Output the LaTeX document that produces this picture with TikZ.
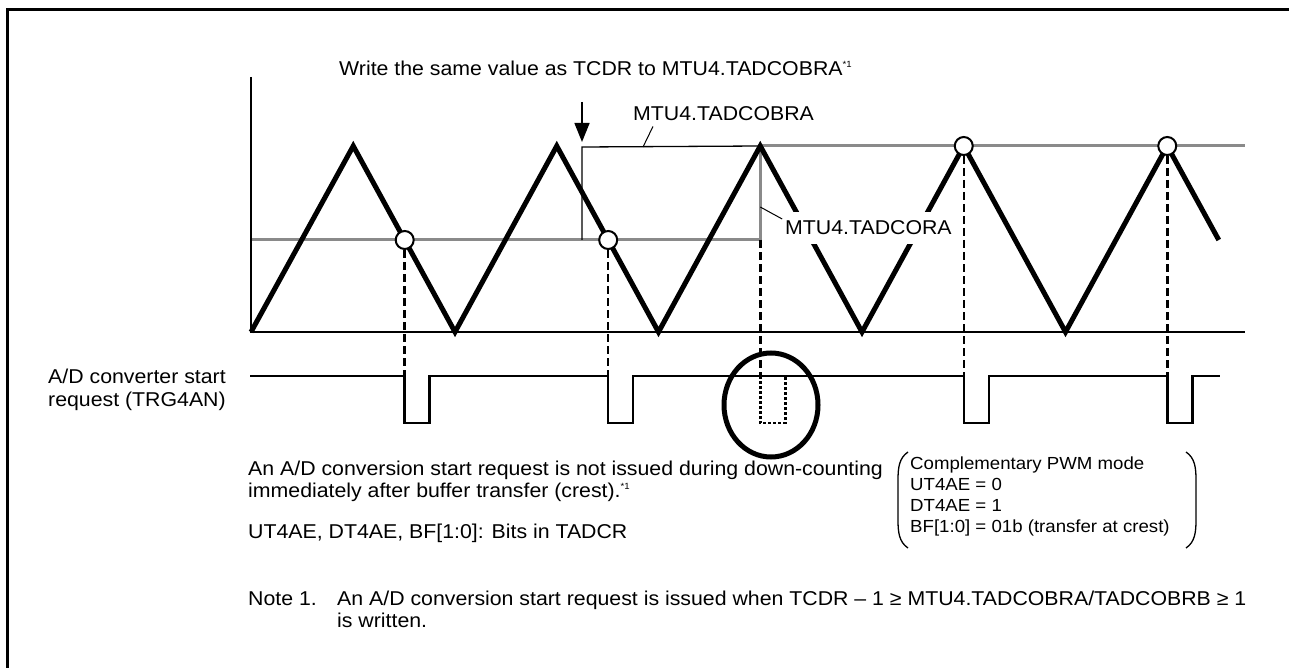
\documentclass[tikz,border=0pt]{standalone}
\usepackage{fontspec}
\setmainfont{Liberation Sans}[FakeStretch=1.065]
\usepackage{tikz}
\usetikzlibrary{
  arrows.meta,
  positioning,
  shapes.geometric,
  calc,
}
\definecolor{cmpgray}{HTML}{8A8A8A}
\newcommand{\noteref}{\raisebox{8pt}{\fontsize{9}{9}\selectfont *1}}

\begin{document}
\begin{tikzpicture}[
    x=1pt, y=-1pt,
    txt/.style={inner sep=0pt, anchor=base west, font=\fontsize{20}{22.5}\selectfont},
    boxtxt/.style={inner sep=0pt, anchor=base west, font=\fontsize{17.5}{21}\selectfont},
    counter/.style={line width=5pt, line join=miter},
    regora/.style={draw=cmpgray, line width=3pt},
    regobra/.style={draw=black, line width=1.3pt},
    hit/.style={circle, draw, line width=2pt, fill=white, minimum size=18pt, inner sep=0pt},
    trig/.style={line width=2.5pt},
    guide/.style={line width=2.5pt, dash pattern=on 8pt off 4pt},
    leader/.style={line width=1pt},
  ]
  \useasboundingbox (0,0) rectangle (1289,668);
  \draw[line width=3pt] (7,668) -- (7,10) -- (1289,10);

  % compare registers
  \coordinate (ora0) at (251,240);
  \coordinate (ora1) at (760.25,240);
  \coordinate (ora2) at (760.25,146);
  \coordinate (ora3) at (1245,146);
  \draw[regora] (ora0) -- (ora1) -- (ora2) -- (ora3);
  \coordinate (obra0) at (582,240);
  \coordinate (obra1) at (582,147);
  \draw[regobra] (obra0) -- (obra1) -- (ora2);

  % axes
  \coordinate (o) at (251,332);
  \draw[line width=1.5pt] (251,77) -- (o) -- (1245,332);

  % counter TCNT
  \draw[counter] (o) -- (353.25,146) -- (455,332) -- (556.75,146) -- (658.5,332)
    -- (760.25,146) -- (862,332) -- (963.75,146) -- (1065.5,332) -- (1167.25,146)
    -- (1218.75,240);

  % write arrow
  \coordinate (wtop) at (582,102);
  \coordinate (wtip) at (582,142);
  \draw[line width=1.5pt, -{Triangle[length=19pt,width=15pt]}] (wtop) -- (wtip);
  \node[txt] (wlab) at (339,76) {Write the same value as TCDR to MTU4.TADCOBRA\noteref};

  % register labels
  \node[txt] (blab) at (633,121) {MTU4.TADCOBRA};
  \coordinate (bpt) at (643,147);
  \draw[leader] ([xshift=20pt,yshift=-5pt]blab.south west) -- (bpt);
  \node[txt, fill=white, inner xsep=2pt, inner ysep=9pt] (alab) at (783,235) {MTU4.TADCORA};
  \coordinate (apt) at (760.25,207);
  \draw[leader] ([xshift=-3pt,yshift=16pt]alab.text) -- (apt);

  % trigger points
  \coordinate (p1) at (404.7,376);
  \coordinate (p2) at (608.2,376);
  \coordinate (p3) at (760.25,376);
  \coordinate (p4) at (963.75,376);
  \coordinate (p5) at (1167.25,376);
  \draw[guide] (404.7,250) -- (p1);
  \draw[guide] (608.2,250) -- (p2);
  \draw[guide] (ora1) -- (p3);
  \draw[guide] (963.75,156) -- (p4);
  \draw[guide] (1167.25,156) -- (p5);
  \node[hit] (c1) at (404.7,240) {};
  \node[hit] (c2) at (608.2,240) {};
  \node[hit] (c3) at (963.75,146) {};
  \node[hit] (c4) at (1167.25,146) {};

  % TRG4AN
  \coordinate (t0) at (250,376);
  \coordinate (t9) at (1220,376);
  \draw[trig] (t0) -- (p1) -- ++(0,47) -- ++(25,0) -- ++(0,-47)
    -- (p2) -- ++(0,47) -- ++(25,0) -- ++(0,-47)
    -- (p4) -- ++(0,47) -- ++(25,0) -- ++(0,-47)
    -- (p5) -- ++(0,47) -- ++(25,0) -- ++(0,-47) -- (t9);
  \draw[trig, dash pattern=on 3pt off 2pt] (p3) -- ++(0,47) -- ++(25,0) -- ++(0,-47);
  \node[draw, ellipse, line width=5pt, minimum width=94pt, minimum height=104pt] (miss) at (771,405) {};
  \node[txt] (trg1) at (48,383) {A/D converter start};
  \node[txt] (trg2) at (48,406) {request (TRG4AN)};

  % notes
  \node[txt] (n1) at (248,475) {An A/D conversion start request is not issued during down-counting};
  \node[txt] (n2) at (248,497.5) {immediately after buffer transfer (crest).\noteref};
  \node[txt] (bits) at (248,538) {UT4AE, DT4AE, BF[1:0]: Bits in TADCR};
  \node[txt] (note) at (248,605) {Note 1.};
  \node[txt] (nt1) at (337,605) {An A/D conversion start request is issued when TCDR – 1 ≥ MTU4.TADCOBRA/TADCOBRB ≥ 1};
  \node[txt] (nt2) at (337,627.5) {is written.};

  % mode settings
  \node[boxtxt] (m1) at (910,469) {Complementary PWM mode};
  \node[boxtxt] (m2) at (910,490) {UT4AE = 0};
  \node[boxtxt] (m3) at (910,511) {DT4AE = 1};
  \node[boxtxt] (m4) at (910,532) {BF[1:0] = 01b (transfer at crest)};
  \draw[line width=1.3pt] (908,452) .. controls (899,458) and (898,468) .. (898,480)
    -- (898,520) .. controls (898,532) and (899,542) .. (908,548);
  \draw[line width=1.3pt] (1186,452) .. controls (1195,458) and (1196,468) .. (1196,480)
    -- (1196,520) .. controls (1196,532) and (1195,542) .. (1186,548);
\end{tikzpicture}
\end{document}
